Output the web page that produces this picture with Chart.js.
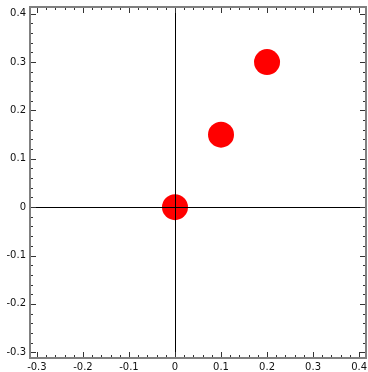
<!DOCTYPE html>
<html><head><meta charset="utf-8">
<script src="https://cdn.jsdelivr.net/npm/chart.js@4"></script>
<style>html,body{margin:0;padding:0;background:#fff;overflow:hidden}#wrap{width:368px;height:372px}</style>
</head><body><div id="wrap"><canvas id="c"></canvas></div>
<script>
const xValues = [0, 0.1, 0.2];
const yValues = [0, 0.15, 0.3];
const xTicks = [-0.3, -0.2, -0.1, 0, 0.1, 0.2, 0.3, 0.4];
const yTicks = [-0.3, -0.2, -0.1, 0, 0.1, 0.2, 0.3, 0.4];
const xRange = [-0.315, 0.415];
const yRange = [-0.312, 0.414];
const minorStep = 0.02;

const fmt = v => { const r = Math.round(v*10)/10; return r === 0 ? '0' : String(r); };
const noPad = s => { s.paddingLeft = 0; s.paddingRight = 0; s.paddingTop = 0; s.paddingBottom = 0; };

const framePlugin = {
  id: 'frame',
  afterDatasetsDraw(chart) {
    const {ctx, chartArea: a, scales: {x, y}} = chart;
    ctx.save();
    ctx.strokeStyle = '#000'; ctx.lineWidth = 1;
    ctx.beginPath();
    const x0 = Math.round(x.getPixelForValue(0)) + 0.5;
    const y0 = Math.round(y.getPixelForValue(0)) + 0.5;
    ctx.moveTo(x0, a.top); ctx.lineTo(x0, a.bottom);
    ctx.moveTo(a.left, y0); ctx.lineTo(a.right, y0);
    ctx.stroke();
    ctx.strokeStyle = '#333'; ctx.lineWidth = 1;
    ctx.beginPath();
    const drawX = (v, len) => {
      const p = Math.round(x.getPixelForValue(v)) + 0.5;
      if (p < a.left || p > a.right) return;
      ctx.moveTo(p, a.bottom); ctx.lineTo(p, a.bottom - len);
      ctx.moveTo(p, a.top); ctx.lineTo(p, a.top + len);
    };
    const drawY = (v, len) => {
      const p = Math.round(y.getPixelForValue(v)) + 0.5;
      if (p < a.top || p > a.bottom) return;
      ctx.moveTo(a.left, p); ctx.lineTo(a.left + len, p);
      ctx.moveTo(a.right, p); ctx.lineTo(a.right - len, p);
    };
    for (let i = Math.ceil(xRange[0]/minorStep); i*minorStep <= xRange[1]; i++) drawX(i*minorStep, 3);
    for (let i = Math.ceil(yRange[0]/minorStep); i*minorStep <= yRange[1]; i++) drawY(i*minorStep, 3);
    xTicks.forEach(v => drawX(v, 6));
    yTicks.forEach(v => drawY(v, 6));
    ctx.stroke();
    ctx.strokeStyle = '#808080'; ctx.lineWidth = 2;
    ctx.strokeRect(a.left, a.top, a.right - a.left, a.bottom - a.top);
    ctx.restore();
  }
};

new Chart(document.getElementById('c'), {
  type: 'scatter',
  data: { datasets: [{
    data: xValues.map((v, i) => ({x: v, y: yValues[i]})),
    backgroundColor: '#ff0000', borderWidth: 0, pointRadius: 13, pointHoverRadius: 13
  }]},
  options: {
    responsive: true, maintainAspectRatio: false, animation: false,
    layout: { autoPadding: false, padding: { top: 7, right: 2, left: 0, bottom: 0 } },
    plugins: { legend: { display: false }, tooltip: { enabled: false } },
    scales: {
      x: {
        type: 'linear', min: xRange[0], max: xRange[1],
        grid: { display: false, drawTicks: false }, border: { display: false },
        afterBuildTicks: s => { s.ticks = xTicks.map(v => ({value: v})); },
        afterFit: s => { s.height = 14; noPad(s); },
        ticks: { callback: v => fmt(v), color: '#111', padding: 3, maxRotation: 0, autoSkip: false,
                 font: { family: 'DejaVu Sans', size: 10 } }
      },
      y: {
        type: 'linear', min: yRange[0], max: yRange[1],
        grid: { display: false, drawTicks: false }, border: { display: false },
        afterBuildTicks: s => { s.ticks = yTicks.map(v => ({value: v})); },
        afterFit: s => { s.width = 30; noPad(s); },
        ticks: { callback: v => fmt(v), color: '#111', padding: 4, autoSkip: false,
                 font: { family: 'DejaVu Sans', size: 10 } }
      }
    }
  },
  plugins: [framePlugin]
});
</script></body></html>
